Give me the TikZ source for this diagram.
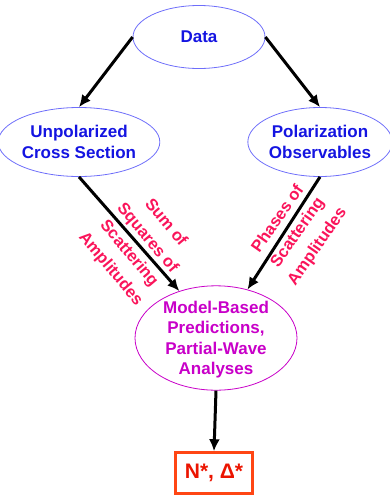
\documentclass[tikz,border=0pt]{standalone}
\usepackage{fontspec}
\setmainfont{Liberation Sans}
\usetikzlibrary{shapes.geometric,arrows.meta}
\definecolor{obsblue}{RGB}{20,20,225}
\definecolor{ovalblue}{RGB}{110,110,250}
\definecolor{fitmagenta}{RGB}{200,0,200}
\definecolor{notered}{RGB}{250,20,90}
\definecolor{boxorange}{RGB}{255,70,20}
\definecolor{boxred}{RGB}{235,20,0}
\begin{document}
\begin{tikzpicture}[x=1pt,y=-1pt,
    >={Latex[length=12pt,width=11pt]},
    oval/.style={ellipse, draw=ovalblue, line width=0.8pt, inner sep=0pt,
        align=center, text=obsblue, font=\fontsize{17}{21}\selectfont\bfseries},
    flow/.style={->, line width=3pt},
    note/.style={align=center, text=notered, font=\fontsize{16.5}{24}\selectfont\bfseries}]
    \useasboundingbox (0,0) rectangle (390,496);

    \node[oval, minimum width=132, minimum height=63] (data) at (199,37) {Data};
    \node[oval, minimum width=143, minimum height=69] (unpol) at (79,142) {Unpolarized\\Cross Section};
    \node[oval, minimum width=140, minimum height=69] (polar) at (320,142) {Polarization\\Observables};
    \node[oval, draw=fitmagenta, text=fitmagenta, font=\fontsize{17}{20.5}\selectfont\bfseries,
        text depth=-16pt, minimum width=162, minimum height=103] (model) at (216,338)
        {Model-Based\\Predictions,\\Partial-Wave\\Analyses};
    \node[draw=boxorange, line width=2.5pt, text=boxred, font=\fontsize{21}{24}\selectfont\bfseries,
        minimum width=77, minimum height=41] (nstar) at (214,473) {N*, Δ*};

    \draw[flow] (data.west) -- (unpol.north);
    \draw[flow] (data.east) -- (polar.north);
    \draw[flow] (unpol.south) -- (model.128);
    \draw[flow] (polar.south) -- (model.57);
    \draw[flow] (model.south) -- (nstar.north);

    \node[note, rotate=-50] (sumlabel) at (138,246) {Sum of\\Squares of\\Scattering\\Amplitudes};
    \node[note, rotate=55] (phaselabel) at (298,233) {Phases of\\Scattering\\Amplitudes};
\end{tikzpicture}
\end{document}
